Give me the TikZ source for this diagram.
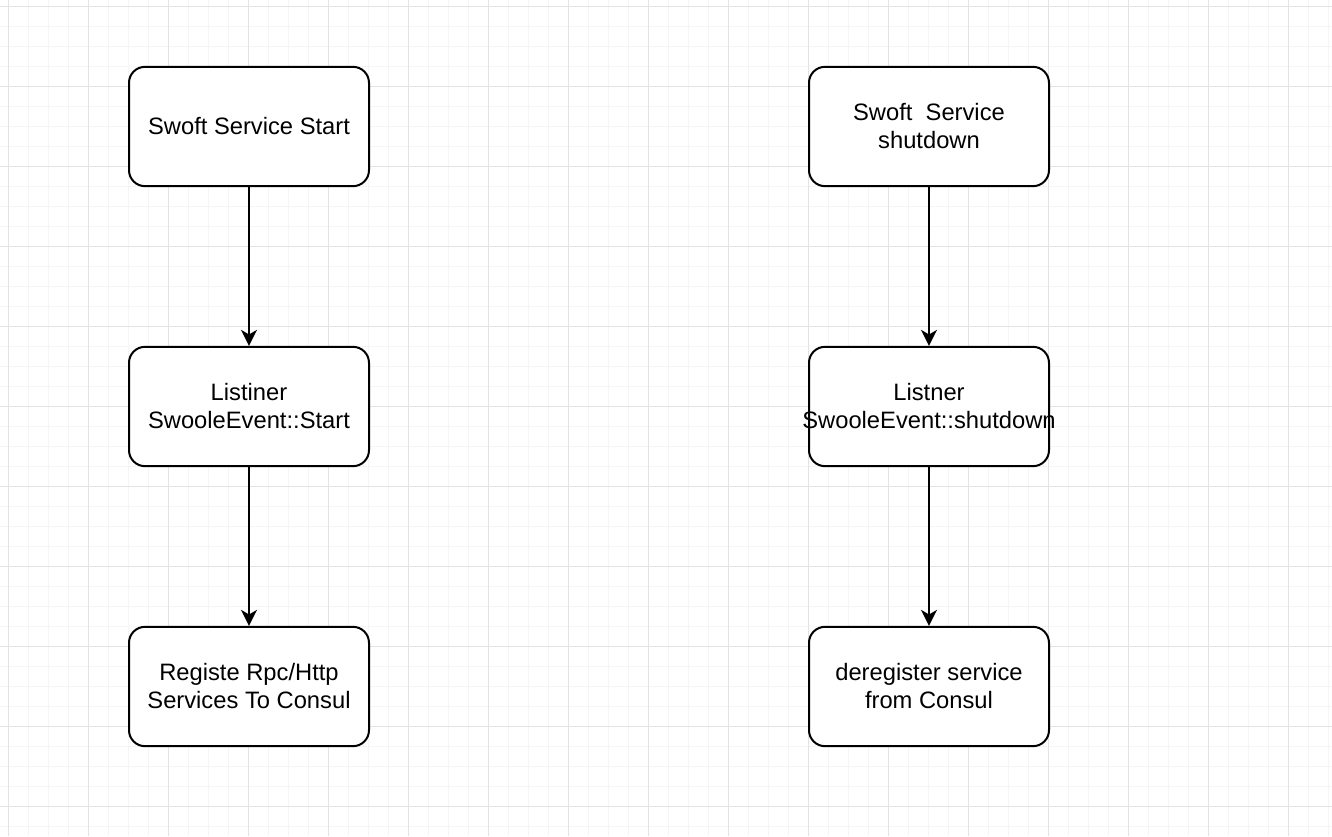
\documentclass[tikz,border=0pt]{standalone}
\usepackage{fontspec}
\setmainfont{Liberation Sans}
\usetikzlibrary{arrows.meta,positioning}
\tikzset{
  stepbox/.style={draw=black,line width=1.5pt,rounded corners=12pt,fill=white,
    minimum width=180pt,minimum height=89.5pt,align=center,inner sep=0pt,
    font=\fontsize{17.8}{21}\selectfont},
  flow/.style={draw=black,line width=1.5pt,-{Stealth[length=12pt,width=12pt,inset=3.5pt]}},
  minorgrid/.style={draw=black!4,line width=0.75pt},
  majorgrid/.style={draw=black!11,line width=0.75pt},
}
\begin{document}
\begin{tikzpicture}[x=0.75pt,y=-0.75pt]
%
\useasboundingbox (0,0) rectangle (1332,836);
\fill[white] (0,0) rectangle (1332,836);
%
% background grid
\foreach \gx in {8,28,...,1332} \draw[minorgrid] (\gx,0) -- (\gx,836);
\foreach \gy in {6,26,...,836} \draw[minorgrid] (0,\gy) -- (1332,\gy);
\foreach \gx in {8,88,...,1332} \draw[majorgrid] (\gx,0) -- (\gx,836);
\foreach \gy in {6,86,...,836} \draw[majorgrid] (0,\gy) -- (1332,\gy);
%
% start side
\node[stepbox] (start) at (249,126.5) {Swoft Service Start};
\node[stepbox] (startlsn) at (249,406.5) {Listiner\\SwooleEvent::Start};
\node[stepbox] (register) at (249,686.5) {Registe Rpc/Http\\Services To Consul};
%
% shutdown side
\node[stepbox] (stop) at (929,126.5) {Swoft\ \ Service\\shutdown};
\node[stepbox] (stoplsn) at (929,406.5) {Listner\\\makebox[0pt][c]{SwooleEvent::shutdown}};
\node[stepbox] (deregister) at (929,686.5) {deregister service\\from Consul};
%
\draw[flow] (start) -- (startlsn);
\draw[flow] (startlsn) -- (register);
\draw[flow] (stop) -- (stoplsn);
\draw[flow] (stoplsn) -- (deregister);
%
\end{tikzpicture}
\end{document}
